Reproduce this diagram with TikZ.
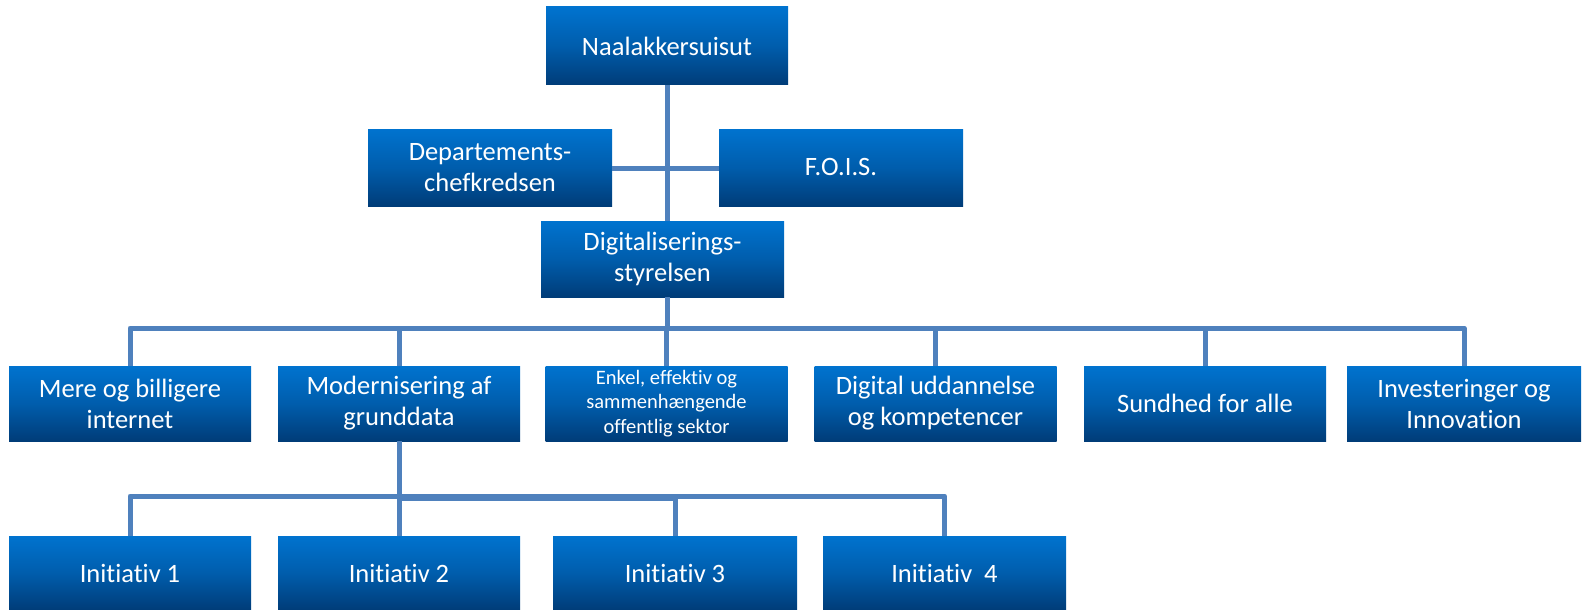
\documentclass[tikz,border=0pt]{standalone}
\usepackage{fontspec}
\setmainfont[Ligatures=NoCommon]{Carlito}
\definecolor{lineblue}{HTML}{4F81BD}
\definecolor{boxtop}{HTML}{0073CF}
\definecolor{boxbot}{HTML}{003C78}
\begin{document}
\begin{tikzpicture}[x=1pt,y=-1pt,
  orgbox/.style={rectangle, inner sep=0pt, top color=boxtop, bottom color=boxbot, middle color=boxtop!60!boxbot,
    text=white, align=center, font=\fontsize{26.5}{31}\selectfont, minimum width=242pt, minimum height=76pt},
  conn/.style={draw=lineblue, line width=5pt}]
\useasboundingbox (0,0) rectangle (1583,610);
\coordinate (r2) at (667,168);
\coordinate (r3l) at (0,328);
\coordinate (r4l) at (0,496);

\node[orgbox, minimum height=78pt] (top) at (667,46) {Naalakkersuisut};
\node[orgbox, minimum width=244pt, minimum height=77pt] (dept) at (490,167.5) {Departements-\\chefkredsen};
\node[orgbox, minimum width=244pt, minimum height=77pt] (fois) at (841,167.5) {F.O.I.S.};
\node[orgbox, minimum width=243pt] (dig) at (662.5,259) {Digitaliserings-\\styrelsen};

\node[orgbox, minimum height=75pt] (a1) at (130,403.5) {Mere og billigere\\internet};
\node[orgbox, minimum height=75pt] (a2) at (399,403.5) {Modernisering af\\grunddata};
\node[orgbox, minimum height=75pt, font=\fontsize{20.5}{24.5}\selectfont] (a3) at (666.5,403.5) {Enkel, effektiv og\\sammenhængende\\offentlig sektor};
\node[orgbox, minimum height=75pt] (a4) at (935.5,403.5) {Digital uddannelse\\og kompetencer};
\node[orgbox, minimum height=75pt] (a5) at (1205,403.5) {Sundhed for alle};
\node[orgbox, minimum height=75pt, minimum width=234pt] (a6) at (1464,403.5) {Investeringer og\\Innovation};

\node[orgbox, minimum height=74pt] (b1) at (130,573) {Initiativ 1};
\node[orgbox, minimum height=74pt] (b2) at (399,573) {Initiativ 2};
\node[orgbox, minimum height=74pt, minimum width=244pt] (b3) at (675,573) {Initiativ 3};
\node[orgbox, minimum height=74pt, minimum width=243pt] (b4) at (944.5,573) {Initiativ\ \ 4};

% top spine
\draw[conn] (top.south) -- (top.south |- dig.north);
\draw[conn] (dept.east |- r2) -- (fois.west |- r2);
% level 3
\draw[conn] (dig.south -| top.south) -- (top.south |- r3l);
\draw[conn, line join=round] (a1.north) -- (a1.north |- r3l) -- (a6.north |- r3l) -- (a6.north);
\foreach \n in {a2,a3,a4,a5} \draw[conn] (\n.north) -- (\n.north |- r3l);
% level 4
\draw[conn] (a2.south) -- (a2.south |- r4l);
\draw[conn, line join=round] (b1.north) -- (b1.north |- r4l) -- (b4.north |- r4l) -- (b4.north);
\draw[conn] ([yshift=-2pt]a2.south |- r4l) -- ([yshift=-2pt]b3.north |- r4l);
\foreach \n in {b2,b3} \draw[conn] (\n.north) -- (\n.north |- r4l);
\end{tikzpicture}
\end{document}
